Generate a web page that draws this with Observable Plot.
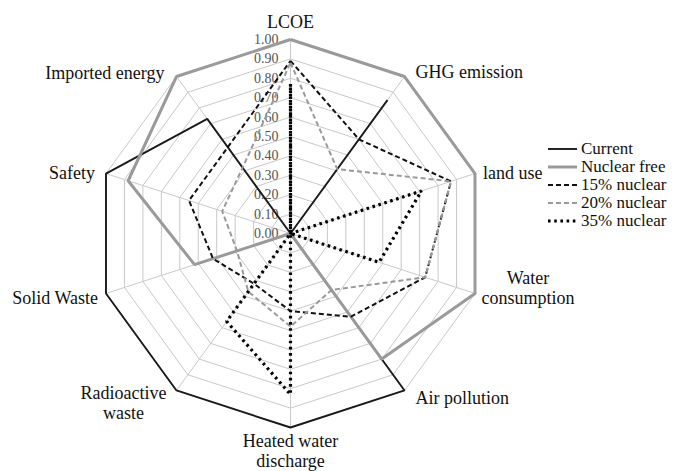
<!DOCTYPE html>
<html><head><meta charset="utf-8">
<script src="https://cdn.jsdelivr.net/npm/d3@7"></script>
<script src="https://cdn.jsdelivr.net/npm/@observablehq/plot@0.6"></script>
<style>
body{margin:0;background:#fff;}
#wrap{position:relative;width:673px;height:471px;font-family:"Liberation Serif","DejaVu Serif",serif;}
#legend{position:absolute;left:548px;top:140px;font-size:17px;line-height:18px;color:#111;font-family:"Liberation Serif","DejaVu Serif",serif;}
.row{display:flex;align-items:center;height:18px;white-space:nowrap;}
.row svg{margin-right:3px;flex:none;}
</style></head><body><div id="wrap"><div id="legend"></div></div>
<script>
// ---- data ----
const categories = ["LCOE","GHG emission","land use","Water consumption","Air pollution","Heated water discharge","Radioactive waste","Solid Waste","Safety","Imported energy"];
const axisLabels = ["LCOE","GHG emission","land use","Water\nconsumption","Air pollution","Heated water\ndischarge","Radioactive\nwaste","Solid Waste","Safety","Imported energy"];
const tickValues = [0,0.1,0.2,0.3,0.4,0.5,0.6,0.7,0.8,0.9,1.0];
const seriesNames = ["Current","Nuclear free","15% nuclear","20% nuclear","35% nuclear"];
const current     = [0.00, 0.85, 0.00, 0.00, 1.00, 1.00, 1.00, 1.00, 1.00, 0.73];
const nuclearFree = [1.00, 1.00, 1.00, 1.00, 0.80, 0.00, 0.00, 0.52, 0.88, 1.00];
const nuclear15   = [0.89, 0.60, 0.87, 0.73, 0.53, 0.40, 0.32, 0.42, 0.55, 0.55];
const nuclear20   = [0.88, 0.41, 0.87, 0.73, 0.36, 0.48, 0.37, 0.29, 0.37, 0.42];
const nuclear35   = [0.77, 0.00, 0.71, 0.48, 0.00, 0.83, 0.56, 0.00, 0.00, 0.00];

// ---- layout / style ----
const W = 673, H = 471, CX = 290, CY = 233, R = 194;
const FONT = '"Liberation Serif","DejaVu Serif",serif';
const n = categories.length;
const ang = i => i * 2 * Math.PI / n;
const px = (i, r) => r * Math.sin(ang(i));
const py = (i, r) => r * Math.cos(ang(i));

const styles = [
  {stroke:"#1a1a1a", strokeWidth:1.9},
  {stroke:"#9a9a9a", strokeWidth:3},
  {stroke:"#111", strokeWidth:2, strokeDasharray:"5,3"},
  {stroke:"#9a9a9a", strokeWidth:2, strokeDasharray:"5,3"},
  {stroke:"#000", strokeWidth:3.2, strokeDasharray:"2.6,3.6"}
];
const seriesValues = [current, nuclearFree, nuclear15, nuclear20, nuclear35];

const labelLayout = [
  {dx:0, dy:-18, a:"middle"},
  {dx:11, dy:-5, a:"start"},
  {dx:8, dy:-1, a:"start"},
  {dx:53, dy:-6, a:"middle"},
  {dx:11, dy:7, a:"start"},
  {dx:0, dy:23, a:"middle"},
  {dx:-53, dy:12, a:"middle"},
  {dx:-8, dy:4, a:"end"},
  {dx:-11, dy:-1, a:"end"},
  {dx:-12, dy:-4, a:"end"}
];

// rings
const ringPts = tickValues.filter(v => v > 0).flatMap(v =>
  d3.range(n + 1).map(k => ({level: v, x: px(k % n, v), y: py(k % n, v)})));
const spokes = categories.map((c, i) => ({x1: 0, y1: 0, x2: px(i, 1), y2: py(i, 1)}));

const seriesMarks = seriesValues.map((vals, s) => {
  const pts = d3.range(n + 1).map(k => ({x: px(k % n, vals[k % n]), y: py(k % n, vals[k % n])}));
  return Plot.line(pts, {x: "x", y: "y", ...styles[s], strokeLinejoin: "miter", strokeLinecap: "butt"});
});

const labelMarks = axisLabels.map((t, i) =>
  Plot.text([i], {x: d => px(d, 1), y: d => py(d, 1), text: d => axisLabels[d],
    dx: labelLayout[i].dx, dy: labelLayout[i].dy, textAnchor: labelLayout[i].a,
    lineAnchor: "middle", lineHeight: 1.1, fontSize: 18, fill: "#111", fontFamily: FONT}));

const chart = Plot.plot({
  width: W, height: H, margin: 0,
  x: {domain: [-CX / R, (W - CX) / R], range: [0, W], axis: null},
  y: {domain: [-(H - CY) / R, CY / R], range: [H, 0], axis: null},
  style: {fontFamily: FONT, background: "#fff", overflow: "visible"},
  marks: [
    Plot.line(ringPts, {x: "x", y: "y", z: "level", stroke: "#c9c9c9", strokeWidth: 1}),
    Plot.link(spokes, {x1: "x1", y1: "y1", x2: "x2", y2: "y2", stroke: "#c9c9c9", strokeWidth: 1}),
    Plot.text(tickValues, {x: 0, y: d => d, text: d => d3.format(".2f")(d), textAnchor: "end", dx: -12, fontSize: 14, fill: "#555", fontFamily: FONT}),
    ...seriesMarks,
    ...labelMarks
  ]
});
document.getElementById("wrap").prepend(chart);

// legend
const leg = document.getElementById("legend");
seriesNames.forEach((name, s) => {
  const st = styles[s];
  const row = document.createElement("div");
  row.className = "row";
  row.innerHTML = `<svg width="30" height="18"><line x1="0" x2="29" y1="9" y2="9" stroke="${st.stroke}" stroke-width="${st.strokeWidth}" ${st.strokeDasharray ? `stroke-dasharray="${st.strokeDasharray}"` : ""}/></svg><span>${name}</span>`;
  leg.appendChild(row);
});
</script></body></html>
